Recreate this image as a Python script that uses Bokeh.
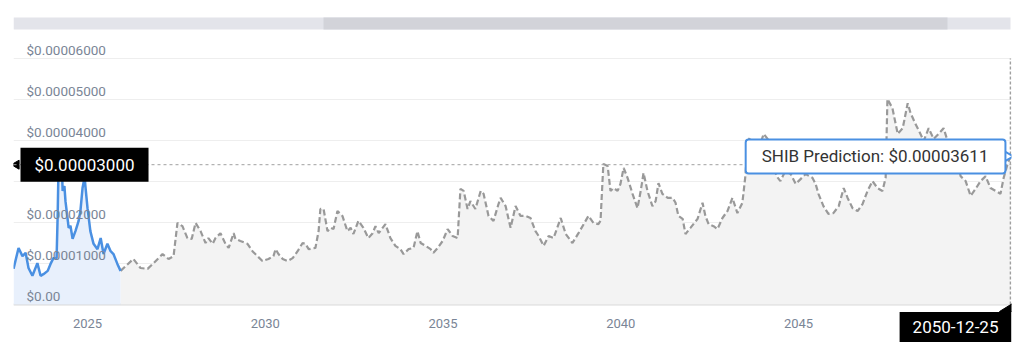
import math
from bokeh.plotting import figure
from bokeh.models import Range1d, FixedTicker, Span, Label, LabelSet, ColumnDataSource
from bokeh.core.properties import value
from bokeh.embed import file_html
from bokeh.resources import INLINE

# ---------------- data (prices in units of 1e-5 USD, time in decimal years) ----------------
hist_t = [2022.92, 2023.06, 2023.17, 2023.26, 2023.34, 2023.45, 2023.59, 2023.68, 2023.76, 2023.88,
          2023.96, 2024.04, 2024.13, 2024.16, 2024.18, 2024.21, 2024.24, 2024.27, 2024.30, 2024.35,
          2024.38, 2024.47, 2024.52, 2024.58, 2024.66, 2024.75, 2024.80, 2024.86, 2024.92, 2024.94,
          2025.00, 2025.08, 2025.17, 2025.28, 2025.37, 2025.45, 2025.56, 2025.65, 2025.73, 2025.84,
          2025.93]
hist_v = [0.87, 1.38, 1.18, 1.26, 0.89, 0.70, 1.01, 0.70, 0.74, 0.82,
          0.99, 1.13, 1.13, 2.16, 3.13, 3.50, 3.26, 3.62, 2.77, 2.89,
          2.52, 1.87, 1.92, 1.60, 1.79, 2.04, 2.28, 2.84, 3.11, 2.89,
          2.35, 1.79, 1.48, 1.35, 1.62, 1.23, 1.48, 1.30, 1.23, 0.99,
          0.82]

pred_t = [2025.93, 2026.29, 2026.49, 2026.69, 2026.86, 2027.11, 2027.28, 2027.42, 2027.53, 2027.67,
          2027.81, 2027.93, 2028.04, 2028.18, 2028.32, 2028.40, 2028.52, 2028.60, 2028.74, 2028.88,
          2028.97, 2029.11, 2029.16, 2029.30, 2029.50, 2029.64, 2029.78, 2029.92, 2030.09, 2030.23,
          2030.29, 2030.37, 2030.49, 2030.63, 2030.77, 2030.91, 2031.05, 2031.13, 2031.22, 2031.41,
          2031.50, 2031.55, 2031.64, 2031.75, 2031.84, 2031.92, 2032.03, 2032.17, 2032.31, 2032.40,
          2032.48, 2032.62, 2032.76, 2032.90, 2033.02, 2033.10, 2033.19, 2033.30, 2033.38, 2033.52,
          2033.66, 2033.80, 2033.89, 2034.03, 2034.17, 2034.28, 2034.37, 2034.51, 2034.65, 2034.73,
          2034.85, 2034.99, 2035.13, 2035.27, 2035.41, 2035.49, 2035.58, 2035.69, 2035.77, 2035.91,
          2036.06, 2036.14, 2036.28, 2036.42, 2036.56, 2036.62, 2036.76, 2036.90, 2037.04, 2037.18,
          2037.32, 2037.46, 2037.60, 2037.69, 2037.83, 2037.97, 2038.11, 2038.31, 2038.45, 2038.64,
          2038.81, 2039.01, 2039.09, 2039.23, 2039.37, 2039.43, 2039.51, 2039.63, 2039.71, 2039.80,
          2039.91, 2039.99, 2040.08, 2040.19, 2040.33, 2040.47, 2040.56, 2040.64, 2040.75, 2040.89,
          2040.98, 2041.06, 2041.17, 2041.32, 2041.46, 2041.54, 2041.62, 2041.74, 2041.82, 2041.96,
          2042.16, 2042.30, 2042.38, 2042.47, 2042.61, 2042.72, 2042.86, 2043.00, 2043.14, 2043.28,
          2043.42, 2043.51, 2043.57, 2043.71, 2043.85, 2044.02, 2044.13, 2044.27, 2044.38, 2044.49,
          2044.63, 2044.78, 2044.92, 2045.00, 2045.20, 2045.39, 2045.48, 2045.56, 2045.70, 2045.84,
          2045.98, 2046.13, 2046.27, 2046.38, 2046.52, 2046.66, 2046.80, 2046.94, 2047.08, 2047.22,
          2047.36, 2047.45, 2047.50, 2047.64, 2047.79, 2047.93, 2048.07, 2048.15, 2048.29, 2048.43,
          2048.52, 2048.66, 2048.80, 2048.94, 2049.08, 2049.22, 2049.36, 2049.56, 2049.70, 2049.84,
          2049.98, 2050.12, 2050.26, 2050.40, 2050.54, 2050.68, 2050.77, 2050.88, 2050.96]
pred_v = [0.82, 1.11, 0.89, 0.87, 1.01, 1.23, 1.11, 1.18, 1.99, 1.91,
          1.62, 1.60, 1.99, 1.79, 1.50, 1.62, 1.48, 1.62, 1.74, 1.48,
          1.38, 1.74, 1.60, 1.55, 1.48, 1.30, 1.18, 1.06, 1.11, 1.18,
          1.35, 1.23, 1.11, 1.06, 1.13, 1.30, 1.50, 1.48, 1.35, 1.38,
          1.79, 2.33, 2.33, 1.79, 1.87, 1.84, 2.28, 2.16, 1.79, 1.87,
          1.72, 2.04, 1.87, 1.62, 1.74, 1.91, 1.74, 1.87, 1.96, 1.62,
          1.43, 1.35, 1.23, 1.35, 1.38, 1.79, 1.50, 1.43, 1.35, 1.26,
          1.38, 1.55, 1.84, 1.67, 1.62, 2.82, 2.77, 2.33, 2.52, 2.33,
          2.77, 2.70, 2.16, 2.04, 2.45, 2.60, 2.40, 1.87, 2.40, 2.16,
          2.16, 2.11, 1.79, 1.67, 1.43, 1.67, 1.62, 2.11, 1.72, 1.50,
          1.74, 2.04, 2.16, 1.99, 1.96, 2.04, 3.43, 3.38, 2.77, 2.84,
          2.77, 2.94, 3.33, 3.09, 2.70, 2.35, 2.77, 3.21, 2.77, 2.40,
          2.52, 2.96, 2.70, 2.60, 2.60, 2.48, 2.16, 2.09, 1.72, 1.87,
          2.09, 2.48, 2.16, 1.96, 1.91, 1.84, 2.11, 2.28, 2.60, 2.23,
          2.48, 3.18, 4.06, 3.99, 3.74, 4.16, 4.04, 3.50, 3.13, 3.01,
          3.26, 3.18, 2.94, 3.01, 3.18, 3.09, 2.94, 2.70, 2.40, 2.21,
          2.23, 2.40, 2.84, 2.60, 2.35, 2.28, 2.45, 2.77, 3.01, 2.84,
          2.77, 3.09, 5.01, 4.79, 4.16, 4.30, 4.91, 4.67, 4.40, 4.16,
          3.99, 4.30, 4.04, 4.16, 4.30, 3.91, 3.82, 3.13, 3.01, 2.65,
          2.82, 3.01, 3.13, 2.84, 2.77, 2.70, 3.09, 3.43, 3.611]

y_ticks = [0, 1, 2, 3, 4, 5, 6]          # x 1e-5 USD
x_ticks = [2025, 2030, 2035, 2040, 2045]
series_name = "SHIB Prediction"
cursor_date = "2050-12-25"
cursor_level = 3.41                       # hovered y level (crosshair)
cursor_label_value = 3.0                  # value printed on the y crosshair label

# ---------------- layout ----------------
W, H = 1024, 356
LEFT, RIGHT = 13, 13
ZERO_PX = 304                             # pixel row of the zero baseline
X0, X1 = 2022.918, 2050.99
PX_PER_UNIT = 41.0
PX_PER_YEAR = (W - LEFT - RIGHT) / (X1 - X0)


def sx(px):
    return X0 + (px - LEFT) / PX_PER_YEAR


def sy(py):
    return (ZERO_PX - py) / PX_PER_UNIT


def money(v):
    return "$0.00" if v == 0 else f"${v * 1e-5:.8f}"


FONT = "Roboto"
LABEL_COLOR = "#7a8596"

p = figure(width=W, height=H, output_backend="svg", toolbar_location=None,
           x_range=Range1d(X0, X1), y_range=Range1d(sy(H), sy(0)),
           min_border_left=LEFT, min_border_right=RIGHT,
           min_border_top=0, min_border_bottom=0)
p.outline_line_color = None
p.background_fill_color = "white"
p.border_fill_color = "white"
p.xaxis.visible = False
p.yaxis.visible = False
p.xgrid.visible = False
p.ygrid.ticker = FixedTicker(ticks=y_ticks)
p.ygrid.grid_line_color = "#eeeeee"

# navigator / scrollbar
p.quad(left=[X0], right=[sx(1010)], bottom=[sy(29)], top=[sy(17)],
       fill_color="#e3e4ea", line_color=None)
p.quad(left=[sx(323)], right=[sx(947)], bottom=[sy(29)], top=[sy(17)],
       fill_color="#d2d3d9", line_color=None)

# areas
p.varea(x=pred_t, y1=[0] * len(pred_t), y2=pred_v, fill_color="#f3f3f3")
p.varea(x=hist_t, y1=[0] * len(hist_t), y2=hist_v, fill_color="#e8f0fc")

# x axis baseline
p.add_layout(Span(location=0, dimension="width", line_color="#d9d9d9", line_width=2,
                  level="underlay"))

# lines
p.line(pred_t, pred_v, line_color="#999999", line_width=2.2, line_dash="6 3")
p.line(hist_t, hist_v, line_color="#4a90e2", line_width=2.5)

# y labels inside plot
ysrc = ColumnDataSource(dict(x=[X0] * len(y_ticks), y=y_ticks,
                             text=[money(v) for v in y_ticks]))
p.add_layout(LabelSet(x="x", y="y", text="text", source=ysrc, x_offset=13, y_offset=4,
                      text_baseline="alphabetic", text_font=value(FONT),
                      text_font_size="13.5px", text_color=LABEL_COLOR))

# x labels below baseline
xsrc = ColumnDataSource(dict(x=x_ticks, y=[0] * len(x_ticks),
                             text=[str(t) for t in x_ticks]))
p.add_layout(LabelSet(x="x", y="y", text="text", source=xsrc, y_offset=-19,
                      text_align="center", text_baseline="middle", text_font=value(FONT),
                      text_font_size="13px", text_color=LABEL_COLOR))

# crosshair
p.add_layout(Span(location=cursor_level, dimension="width", line_color="#a0a0a0",
                  line_width=1, line_dash="3 3"))
p.segment(x0=[pred_t[-1]], y0=[y_ticks[0]], x1=[pred_t[-1]], y1=[y_ticks[-1]],
          line_color="#a0a0a0", line_width=1.5, line_dash="3 2")

# y crosshair label
p.scatter(x=[sx(16)], y=[cursor_level], marker="triangle", angle=math.pi / 2,
          size=9, color="black")
p.add_layout(Label(x=X0, y=cursor_level, x_offset=7, text=money(cursor_label_value),
                   text_align="left", text_baseline="middle", text_font=FONT,
                   text_font_size="17px", text_color="white",
                   background_fill_color="black",
                   padding=dict(left=14, right=14, top=7, bottom=7)))

# tooltip
p.scatter(x=[sx(1007)], y=[pred_v[-1]], marker="triangle", angle=-math.pi / 2,
          size=10, fill_color="white", line_color="#4a90e2", line_width=2)
p.add_layout(Label(x=pred_t[-1], y=pred_v[-1], x_offset=-5,
                   text=f"{series_name}: {money(pred_v[-1])}",
                   text_align="right", text_baseline="middle", text_font=FONT,
                   text_font_size="17px", text_color="#333333",
                   background_fill_color="white", border_line_color="#4a90e2",
                   border_line_width=2, border_radius=3,
                   padding=dict(left=16, right=17, top=7, bottom=7)))

# x crosshair label with notch
p.patch(x=[sx(999), sx(1012), sx(1012)], y=[sy(311), sy(303), sy(311)], color="black")
p.add_layout(Label(x=pred_t[-1], y=0, x_offset=1, y_offset=-22.5, text=cursor_date,
                   text_align="right", text_baseline="middle", text_font=FONT,
                   text_font_size="17px", text_color="white",
                   background_fill_color="black",
                   padding=dict(left=13, right=13, top=9, bottom=9)))

open("out.html", "w").write(file_html(p, INLINE))
